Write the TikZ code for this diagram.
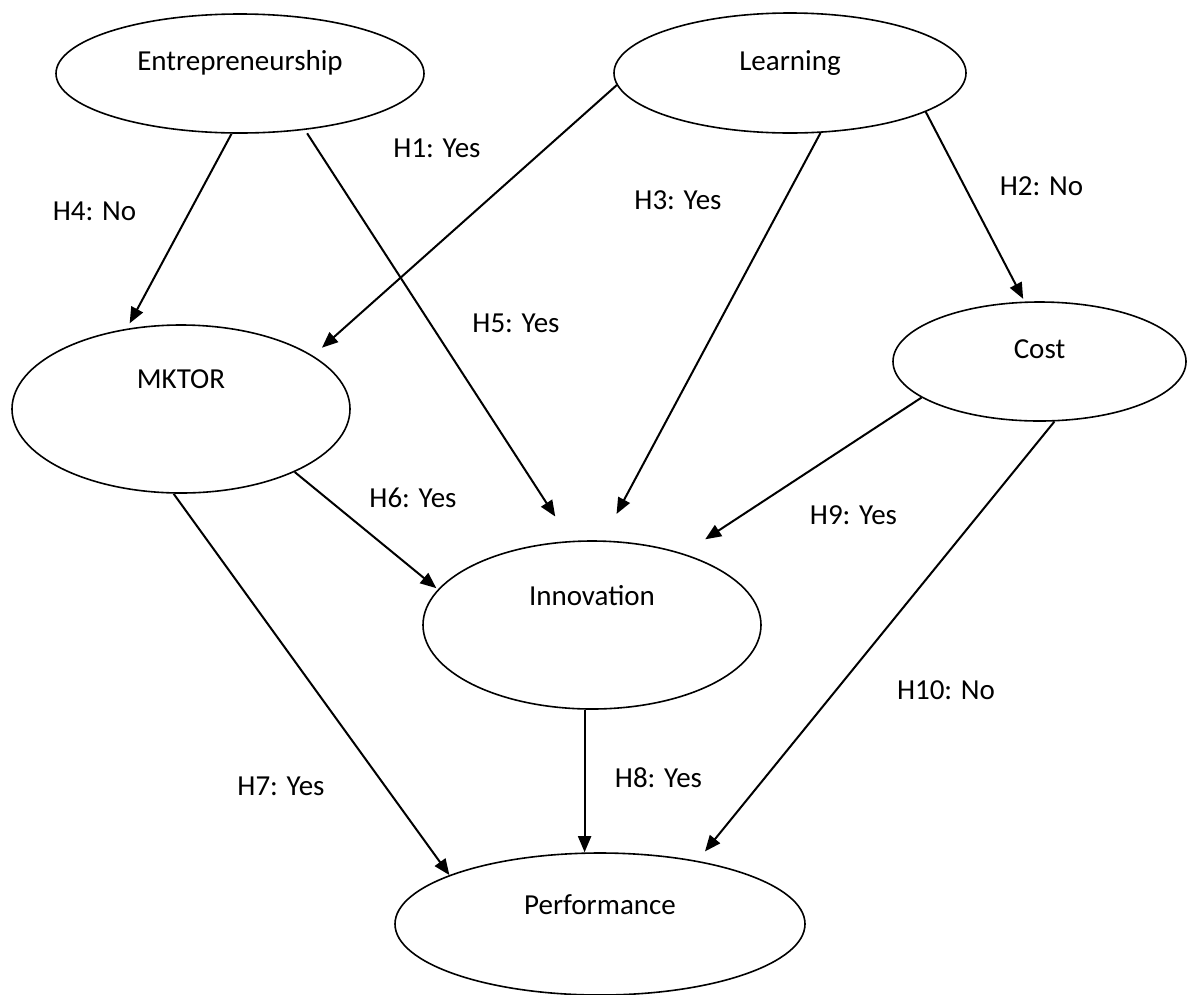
\documentclass[tikz,border=0pt]{standalone}
\usepackage{fontspec}
\setmainfont{Carlito}
\usepackage{tikz}
\usetikzlibrary{arrows.meta}
\usetikzlibrary{shapes.geometric, positioning}

\begin{document}
\begin{tikzpicture}[->,>={Triangle[length=16pt,width=13pt]},line width=2pt,
            x=1pt,y=-1pt,font=\fontsize{29}{34}\selectfont,
            construct/.style={draw,ellipse,line width=1.6pt,inner sep=0pt,text height=20pt},
            hyp/.style={anchor=base}]
            \useasboundingbox (0,0) rectangle (1188,994);

            \node[construct,minimum width=368pt,minimum height=119pt,text depth=27pt] (E) at (240,73.5) {Entrepreneurship};
            \node[construct,minimum width=352pt,minimum height=120pt,text depth=26pt] (L) at (790,73) {Learning};
            \node[construct,minimum width=338pt,minimum height=168pt,text depth=62pt] (M) at (181,409) {MKTOR};
            \node[construct,minimum width=293pt,minimum height=119pt,text depth=27pt] (C) at (1039.5,361.5) {Cost};
            \node[construct,minimum width=338pt,minimum height=168pt,text depth=60pt] (I) at (592,625) {Innovation};
            \node[construct,minimum width=410pt,minimum height=142pt,text depth=40pt] (P) at (600,924) {Performance};

            % From Entrepreneurship
            \path (E.262) edge[shorten >=6pt] (M.124);
            \path (E.319) edge[shorten <=4pt,shorten >=29pt] (I.104);

            % From Learning
            \path (L.184) edge[shorten >=12pt] (M.22);
            \path (L.297) edge[shorten >=30pt] (I.83);
            \path (L.344) edge[shorten >=3pt] (C.104);

            % From MKTOR
            \path (M.331) edge[shorten >=2pt] (I.167);
            \path (M.265) edge (P.162);

            % From Cost
            \path (C.197) edge[shorten >=26pt] (I.38);
            \path (C.284) edge[shorten >=12pt] (P.33);

            % From Innovation
            \path (I.265) edge (I.265 |- P.north);

            % hypotheses
            \node[hyp] (h1) at (437,157) {H1: Yes};
            \node[hyp] (h2) at (1041.5,195) {H2: No};
            \node[hyp] (h3) at (678,209) {H3: Yes};
            \node[hyp] (h4) at (94.5,220) {H4: No};
            \node[hyp] (h5) at (516,332) {H5: Yes};
            \node[hyp] (h6) at (413,507) {H6: Yes};
            \node[hyp] (h7) at (281,795) {H7: Yes};
            \node[hyp] (h8) at (658.5,787) {H8: Yes};
            \node[hyp] (h9) at (853.5,524) {H9: Yes};
            \node[hyp] (h10) at (946,699) {H10: No};

\end{tikzpicture}
\end{document}
